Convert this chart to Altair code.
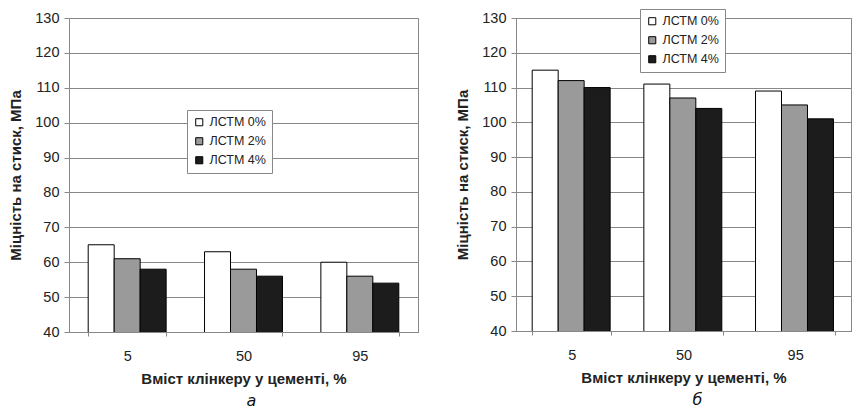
import altair as alt
import pandas as pd

clinker = ["5", "50", "95"]
series = ["ЛСТМ 0%", "ЛСТМ 2%", "ЛСТМ 4%"]
colors = ["#ffffff", "#9a9a9a", "#1c1c1c"]

vals_a = {
    "ЛСТМ 0%": [65, 63, 60],
    "ЛСТМ 2%": [61, 58, 56],
    "ЛСТМ 4%": [58, 56, 54],
}
vals_b = {
    "ЛСТМ 0%": [115, 111, 109],
    "ЛСТМ 2%": [112, 107, 105],
    "ЛСТМ 4%": [110, 104, 101],
}

y_ticks = list(range(40, 131, 10))
y_title = "Міцність на стиск, МПа"
x_title = "Вміст клінкеру у цементі, %"


def make_df(vals):
    rows = []
    for s in series:
        for c, v in zip(clinker, vals[s]):
            rows.append({"clinker": c, "series": s, "value": v})
    return pd.DataFrame(rows)


def panel(vals, caption, w, h, lx, ly, pin, cdx):
    df = make_df(vals)
    return (
        alt.Chart(df)
        .mark_bar(stroke="black", strokeWidth=1, clip=True)
        .encode(
            x=alt.X(
                "clinker:N",
                sort=clinker,
                scale=alt.Scale(paddingInner=pin, paddingOuter=pin / 2),
                axis=alt.Axis(
                    title=x_title,
                    labelAngle=0,
                    tickBand="extent",
                    grid=False,
                    tickSize=4,
                    labelPadding=13,
                    titlePadding=9,
                ),
            ),
            xOffset=alt.XOffset(
                "series:N", sort=series,
                scale=alt.Scale(paddingInner=0, paddingOuter=0),
            ),
            y=alt.Y(
                "value:Q",
                scale=alt.Scale(domain=[40, 130], zero=False, nice=False),
                axis=alt.Axis(
                    title=y_title,
                    values=y_ticks,
                    tickSize=5,
                    labelPadding=5,
                    titlePadding=11,
                ),
            ),
            color=alt.Color(
                "series:N",
                sort=series,
                scale=alt.Scale(domain=series, range=colors),
                legend=alt.Legend(
                    title=None,
                    orient="none",
                    legendX=lx,
                    legendY=ly,
                    symbolType="square",
                    symbolSize=50,
                    symbolStrokeColor="black",
                    symbolStrokeWidth=1,
                    labelFont="Liberation Sans",
                    labelFontSize=12.5,
                    labelColor="#222",
                    rowPadding=6,
                    padding=6,
                    strokeColor="#888",
                    fillColor="white",
                ),
            ),
        )
        .properties(
            width=w,
            height=h,
            title=alt.TitleParams(
                caption,
                orient="bottom",
                font="DejaVu Sans",
                fontStyle="italic",
                fontWeight="normal",
                fontSize=16,
                color="#111",
                offset=6,
                dx=cdx,
            ),
        )
    )


left = panel(vals_a, "а", 349, 314, 118, 92, 0.33, 8)
right = panel(vals_b, "б", 335, 313, 124, -9, 0.29, 14)

chart = (
    alt.hconcat(left, right, spacing=36)
    .resolve_scale(color="independent")
    .resolve_legend(color="independent")
    .properties(padding={"left": 0, "top": 0, "right": 0, "bottom": 0})
    .configure_view(stroke="#888", strokeWidth=1)
    .configure_axis(
        labelFont="Liberation Sans",
        labelFontSize=14.5,
        labelColor="#222",
        titleFont="Liberation Sans",
        titleFontSize=15,
        titleFontWeight="bold",
        titleColor="#222",
        domainColor="#888",
        tickColor="#888",
        gridColor="#888",
        gridWidth=1,
    )
)

chart.save("out.html", embed_options={"renderer": "svg", "actions": False})
